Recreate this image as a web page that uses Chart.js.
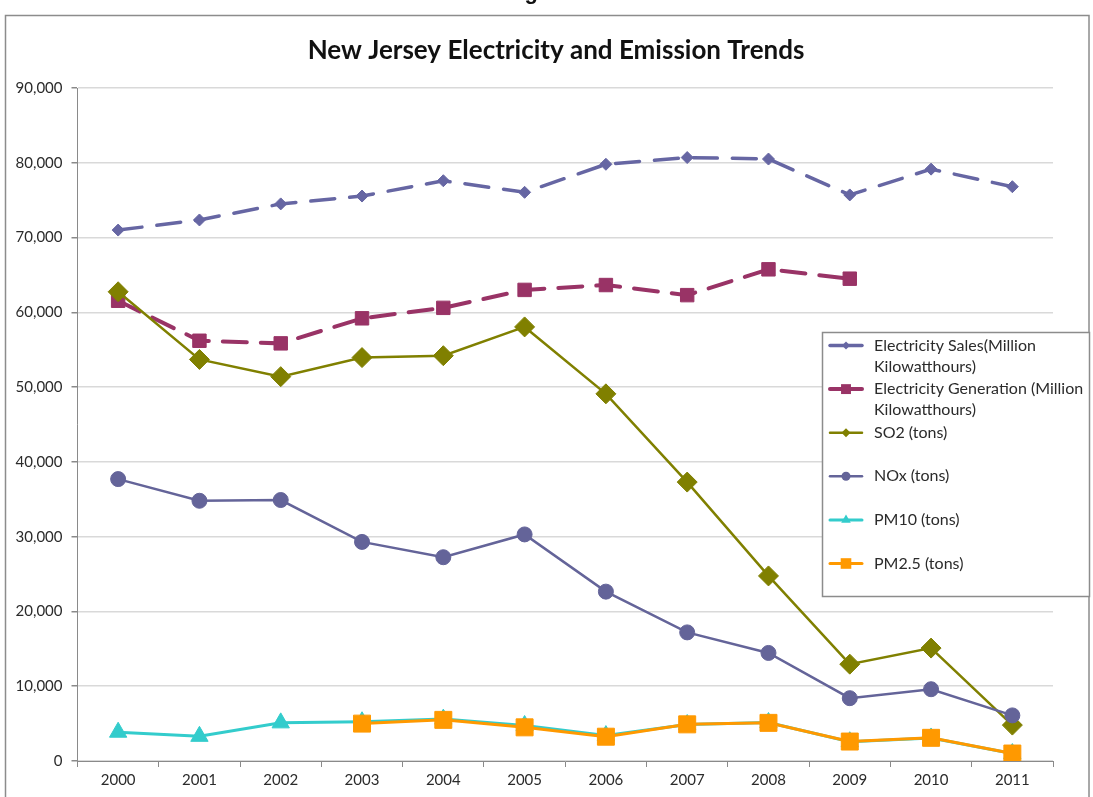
<!DOCTYPE html>
<html>
<head>
<meta charset="utf-8">
<script src="https://cdn.jsdelivr.net/npm/chart.js@4/dist/chart.umd.min.js"></script>
<style>
  html, body { margin: 0; padding: 0; background: #ffffff; overflow: hidden; }
  #wrap { position: relative; width: 1093px; height: 797px; }
  #fig { position: absolute; left: 505px; top: -19px; font: bold 22px "Liberation Sans", Arial, sans-serif;
         line-height: 22px; color: #111; white-space: nowrap; }
  canvas { position: absolute; left: 0; top: 0; }
</style>
</head>
<body>
<div id="wrap">
  <canvas id="chart" width="1093" height="797"></canvas>
  <div id="fig">Figure</div>
</div>
<script>
// Years on the category axis
const years = ['2000', '2001', '2002', '2003', '2004', '2005', '2006', '2007', '2008', '2009', '2010', '2011'];

// Series values
const salesMkwh      = [71000, 72350, 74500, 75550, 77600, 76050, 79800, 80700, 80500, 75700, 79150, 76800];
const generationMkwh = [61550, 56200, 55850, 59200, 60600, 63000, 63650, 62300, 65750, 64500, null, null];
const so2Tons        = [62750, 53700, 51400, 53950, 54200, 58050, 49100, 37300, 24750, 12950, 15100, 4800];
const noxTons        = [37700, 34800, 34900, 29300, 27250, 30300, 22650, 17200, 14450, 8400, 9600, 6100];
const pm10Tons       = [3850, 3300, 5100, 5250, 5600, 4750, 3400, 4880, 5150, 2580, 3080, 1000];
const pm25Tons       = [null, null, null, 5000, 5500, 4500, 3250, 4900, 5100, 2600, 3100, 1000];

// Value-axis tick values
const yTickValues = [0, 10000, 20000, 30000, 40000, 50000, 60000, 70000, 80000, 90000];

const seriesNames = [
  'Electricity Sales(Million Kilowatthours)',
  'Electricity Generation (Million Kilowatthours)',
  'SO2 (tons)',
  'NOx (tons)',
  'PM10 (tons)',
  'PM2.5 (tons)'
];

const FONT = 'Lato, "Open Sans", sans-serif';
const TEXT = '#2b2b2b';
const AXIS = '#8a8a8a';

function series(i, data, color, opts) {
  return Object.assign({
    label: seriesNames[i],
    data: data,
    borderColor: color,
    backgroundColor: color,
    pointBackgroundColor: color,
    pointBorderColor: color,
    pointBorderWidth: 1,
    tension: 0,
    fill: false,
    spanGaps: false,
    // later series sit on top of earlier ones
    order: 10 - i
  }, opts);
}

const datasets = [
  series(0, salesMkwh, '#6666a3', { borderWidth: 3.5, borderDash: [24, 15], borderCapStyle: 'round',
    pointStyle: 'rectRot', pointRadius: 6, legendMarker: 4 }),
  series(1, generationMkwh, '#993366', { borderWidth: 4, borderDash: [24, 14], borderCapStyle: 'round',
    pointStyle: 'rect', pointRadius: 9.5, legendMarker: 7 }),
  series(2, so2Tons, '#808000', { borderWidth: 2.5, pointStyle: 'rectRot', pointRadius: 10, legendMarker: 4.5 }),
  series(3, noxTons, '#646499', { borderWidth: 2.5, pointStyle: 'circle', pointRadius: 7.5, legendMarker: 4.5 }),
  series(4, pm10Tons, '#33cccc', { borderWidth: 3, pointStyle: 'triangle', pointRadius: 10, legendMarker: 5.5 }),
  series(5, pm25Tons, '#ff9900', { borderWidth: 3, pointStyle: 'rect', pointRadius: 12, legendMarker: 7.5 })
];

// Outer frame around the whole chart
const framePlugin = {
  id: 'frame',
  beforeDraw(chart) {
    const ctx = chart.ctx;
    ctx.save();
    ctx.strokeStyle = '#8c8c8c';
    ctx.lineWidth = 1.5;
    ctx.strokeRect(5.5, 15.5, 1083.5, 800);
    ctx.restore();
  }
};

// Title centred above the plot
const titlePlugin = {
  id: 'chartTitle',
  afterDraw(chart) {
    const ctx = chart.ctx;
    ctx.save();
    ctx.font = 'bold 26px ' + FONT;
    ctx.fillStyle = '#111111';
    ctx.textAlign = 'center';
    ctx.textBaseline = 'middle';
    ctx.fillText('New Jersey Electricity and Emission Trends', 556, 51);
    ctx.restore();
  }
};

function drawMarker(ctx, style, x, y, r) {
  ctx.beginPath();
  if (style === 'circle') {
    ctx.arc(x, y, r, 0, Math.PI * 2);
  } else if (style === 'rect') {
    const s = r * Math.SQRT1_2;
    ctx.rect(x - s, y - s, 2 * s, 2 * s);
  } else if (style === 'rectRot') {
    ctx.moveTo(x, y - r); ctx.lineTo(x + r, y); ctx.lineTo(x, y + r); ctx.lineTo(x - r, y);
    ctx.closePath();
  } else if (style === 'triangle') {
    const h = r * 1.5;
    ctx.moveTo(x, y - h * 0.66); ctx.lineTo(x + r * 0.87, y + h * 0.34); ctx.lineTo(x - r * 0.87, y + h * 0.34);
    ctx.closePath();
  }
  ctx.fill();
}

function wrapText(ctx, text, maxWidth) {
  const words = text.split(' ');
  const lines = [];
  let cur = '';
  for (const w of words) {
    const test = cur ? cur + ' ' + w : w;
    if (cur && ctx.measureText(test).width > maxWidth) { lines.push(cur); cur = w; }
    else cur = test;
  }
  if (cur) lines.push(cur);
  return lines;
}

// Boxed legend floating over the right of the plot
const boxLegendPlugin = {
  id: 'boxLegend',
  afterDraw(chart) {
    const ctx = chart.ctx;
    const box = { left: 822.5, top: 332.5, right: 1089.5, bottom: 596.5 };
    ctx.save();
    ctx.fillStyle = '#ffffff';
    ctx.fillRect(box.left, box.top, box.right - box.left, box.bottom - box.top);
    ctx.strokeStyle = '#8c8c8c';
    ctx.lineWidth = 1.5;
    ctx.strokeRect(box.left, box.top, box.right - box.left, box.bottom - box.top);

    ctx.font = '16px ' + FONT;
    ctx.textBaseline = 'middle';
    ctx.textAlign = 'left';
    const textX = 874;
    chart.data.datasets.forEach((ds, i) => {
      const y = 345.5 + i * 43.6;
      ctx.strokeStyle = ds.borderColor;
      ctx.lineWidth = ds.borderWidth;
      ctx.setLineDash([]);
      ctx.lineCap = 'round';
      ctx.beginPath();
      ctx.moveTo(830, y);
      ctx.lineTo(862, y);
      ctx.stroke();
      ctx.fillStyle = ds.borderColor;
      drawMarker(ctx, ds.pointStyle, 846, y, ds.legendMarker);
      ctx.fillStyle = TEXT;
      const lines = wrapText(ctx, ds.label, box.right - textX - 2);
      lines.forEach((ln, k) => ctx.fillText(ln, textX, y + k * 21));
    });
    ctx.restore();
  }
};

new Chart(document.getElementById('chart'), {
  type: 'line',
  data: { labels: years, datasets: datasets },
  plugins: [framePlugin, titlePlugin, boxLegendPlugin],
  options: {
    responsive: false,
    animation: false,
    devicePixelRatio: 1,
    layout: { padding: { top: 88, right: 40, bottom: 0, left: 0 } },
    plugins: {
      legend: { display: false },
      title: { display: false },
      tooltip: { enabled: false }
    },
    scales: {
      x: {
        type: 'category',
        offset: true,
        grid: { offset: true, drawOnChartArea: false, drawTicks: true, tickLength: 6, color: AXIS, lineWidth: 1 },
        border: { color: AXIS, width: 1 },
        ticks: { font: { family: FONT, size: 15 }, color: TEXT, padding: 4, maxRotation: 0 },
        afterFit(scale) { scale.height = 36; }
      },
      y: {
        min: 0,
        max: 90000,
        afterBuildTicks(scale) { scale.ticks = yTickValues.map(v => ({ value: v })); },
        grid: { color: '#d9d9d9', lineWidth: 1.5, drawTicks: true, tickLength: 6, tickColor: AXIS },
        border: { color: AXIS, width: 1 },
        ticks: {
          font: { family: FONT, size: 15 }, color: TEXT, padding: 9,
          callback: v => v.toLocaleString('en-US')
        },
        afterFit(scale) { scale.width = 77.5; }
      }
    }
  }
});
</script>
</body>
</html>
